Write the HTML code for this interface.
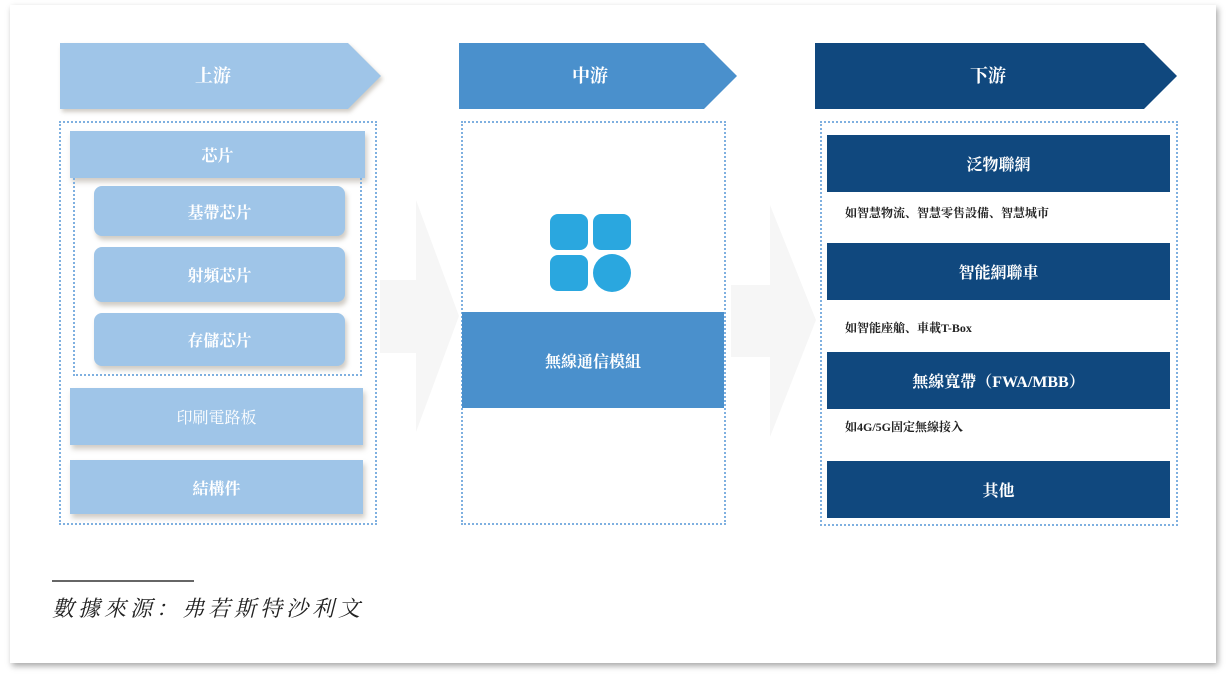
<!DOCTYPE html>
<html><head><meta charset="utf-8"><style>
*{margin:0;padding:0;box-sizing:border-box}
body{width:1227px;height:678px;background:#fff;position:relative;overflow:hidden;font-family:"Liberation Serif","Noto Serif CJK SC","Noto Sans CJK TC",serif}
.card{position:absolute;left:10px;top:5px;width:1206px;height:658px;background:#fff;box-shadow:2px 3px 6px rgba(0,0,0,.35)}
.a{position:absolute}
.c{display:flex;align-items:center;justify-content:center;color:#fff;font-weight:bold}
.lt{background:#9fc5e8}
.sh{box-shadow:2px 4px 5px rgba(120,110,90,.35)}
.dk{background:#10487e;font-size:16px}
.dot{border:2px dotted #7fb0e0}
.desc{position:absolute;font-size:12px;font-weight:bold;color:#222}
</style></head><body>
<div class="card"></div>
<svg class="a" style="left:0;top:0" width="1227" height="678">
<polygon points="380,280 416,280 416,200 459,316 416,432 416,353 380,353" fill="#f6f6f6"/>
<polygon points="731,285 770,285 770,205 816,320 770,437 770,357 731,357" fill="#f6f6f6"/>
<polygon points="60,43 348,43 381,76 348,109 60,109" fill="#9fc5e8" style="filter:drop-shadow(2px 3px 2px rgba(120,110,90,.35))"/>
<polygon points="459,43 704,43 737,76 704,109 459,109" fill="#4a90cc"/>
<polygon points="815,43 1144,43 1177,76 1144,109 815,109" fill="#10487e"/>
<text x="213" y="82" fill="#fff" font-size="18" font-weight="bold" text-anchor="middle" font-family="Liberation Serif,Noto Serif CJK SC,serif">上游</text>
<text x="590" y="82" fill="#fff" font-size="18" font-weight="bold" text-anchor="middle" font-family="Liberation Serif,Noto Serif CJK SC,serif">中游</text>
<text x="988" y="82" fill="#fff" font-size="18" font-weight="bold" text-anchor="middle" font-family="Liberation Serif,Noto Serif CJK SC,serif">下游</text>
<rect x="550" y="214" width="38" height="36" rx="8" fill="#2aa7df"/>
<rect x="593" y="214" width="38" height="36" rx="8" fill="#2aa7df"/>
<rect x="550" y="255" width="38" height="36" rx="8" fill="#2aa7df"/>
<circle cx="612" cy="273" r="19" fill="#2aa7df"/>
</svg>
<div class="a dot" style="left:59px;top:121px;width:318px;height:404px"></div>
<div class="a lt c sh" style="left:70px;top:131px;width:295px;height:47px;font-size:16px">芯片</div>
<div class="a dot" style="left:73px;top:178px;width:289px;height:198px;border-top:none"></div>
<div class="a lt c sh" style="left:94px;top:186px;width:251px;height:50px;border-radius:8px;font-size:16px">基帶芯片</div>
<div class="a lt c sh" style="left:94px;top:247px;width:251px;height:55px;border-radius:8px;font-size:16px">射頻芯片</div>
<div class="a lt c sh" style="left:94px;top:313px;width:251px;height:53px;border-radius:8px;font-size:16px">存儲芯片</div>
<div class="a lt c sh" style="left:70px;top:388px;width:293px;height:57px;font-size:16px;font-weight:normal">印刷電路板</div>
<div class="a lt c sh" style="left:70px;top:460px;width:293px;height:54px;font-size:16px">結構件</div>

<div class="a dot" style="left:461px;top:121px;width:265px;height:404px"></div>
<div class="a c" style="left:462px;top:312px;width:262px;height:96px;background:#4a90cc;font-size:16px">無線通信模組</div>

<div class="a dot" style="left:820px;top:121px;width:358px;height:405px"></div>
<div class="a c dk" style="left:827px;top:135px;width:343px;height:57px">泛物聯網</div>
<div class="desc" style="left:845px;top:204px">如智慧物流、智慧零售設備、智慧城市</div>
<div class="a c dk" style="left:827px;top:243px;width:343px;height:57px">智能網聯車</div>
<div class="desc" style="left:845px;top:319px">如智能座艙、車載T-Box</div>
<div class="a c dk" style="left:827px;top:352px;width:343px;height:57px">無線寬帶（FWA/MBB）</div>
<div class="desc" style="left:845px;top:418px">如4G/5G固定無線接入</div>
<div class="a c dk" style="left:827px;top:461px;width:343px;height:57px">其他</div>

<div class="a" style="left:52px;top:580px;width:142px;height:2px;background:#666"></div>
<div class="a" style="left:52px;top:592px;font-size:22px;font-style:italic;color:#222;letter-spacing:4px">數據來源：弗若斯特沙利文</div>
</body></html>
